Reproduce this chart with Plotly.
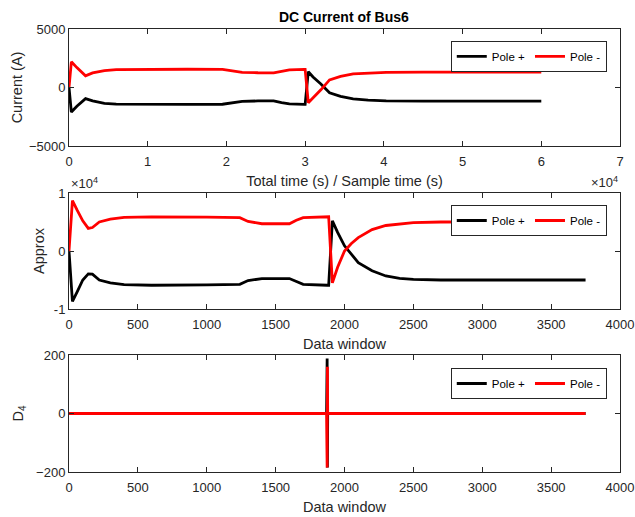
import plotly.graph_objects as go

# ---------------- data ----------------
# Subplot 1: time axis in units of 1e4 (Total time / Sample time)
t1 = [0, 0.03, 0.1, 0.21, 0.3, 0.45, 0.6, 1.0, 1.5, 1.95, 2.05, 2.2, 2.4, 2.6, 2.7, 2.8, 2.99,
      3.0, 3.04, 3.1, 3.2, 3.31, 3.45, 3.61, 3.8, 4.03, 4.5, 5.0, 5.5, 6.0]
cur_pos = [0, -2100, -1600, -950, -1150, -1350, -1420, -1450, -1450, -1430, -1350, -1180, -1150, -1150,
           -1300, -1400, -1450,
           -1450, 1350, 900, 300, -450, -750, -970, -1080, -1140, -1160, -1160, -1160, -1160]
cur_neg = [0, 2200, 1700, 1000, 1250, 1450, 1530, 1560, 1560, 1550, 1450, 1300, 1260, 1250,
           1380, 1500, 1550,
           1550, -1300, -900, -200, 650, 950, 1170, 1250, 1300, 1310, 1310, 1310, 1310]

# Subplot 2: approximation coefficients vs data window
w2 = [0, 25, 60, 100, 140, 170, 220, 300, 400, 600, 1000, 1240, 1300, 1400, 1600, 1650, 1700, 1875,
      1885, 1912, 1950, 2000, 2050, 2100, 2200, 2300, 2400, 2500, 2700, 3000, 3500, 3750]
app_pos = [0, -8700, -7000, -5000, -3950, -4000, -5000, -5500, -5800, -5900, -5850, -5750, -5100,
           -4750, -4750, -5300, -5750, -5900,
           -5900, 5200, 3200, 900, -600, -2000, -3400, -4300, -4700, -4900, -5000, -5000, -5000, -5000]
app_neg = [0, 8700, 7000, 5200, 3900, 4050, 5000, 5500, 5800, 5900, 5850, 5750, 5100,
           4700, 4700, 5300, 5750, 5900,
           5900, -5500, -2800, 0, 1300, 2300, 3700, 4400, 4700, 4900, 5000, 5050, 5050, 5050]

# Subplot 3: detail coefficients D4 vs data window
w3 = [0, 1870, 1874, 1876, 1878, 1882, 3750]
d4_pos = [0, 0, 188, -185, 0, 0, 0]
d4_neg = [0, 0, -185, 160, 0, 0, 0]

series_names = ["Pole +", "Pole -"]
series_colors = ["#000000", "#FF0000"]

x1_ticks = [0, 1, 2, 3, 4, 5, 6, 7]
y1_ticks = [-5000, 0, 5000]
y2_ticks = [-10000, 0, 10000]
y2_ticktext = ["-1", "0", "1"]
x23_ticks = [0, 500, 1000, 1500, 2000, 2500, 3000, 3500, 4000]
y3_ticks = [-200, 0, 200]

title_text = "DC Current of Bus6"

# ---------------- figure ----------------
AX = "#262626"
FONT = "Liberation Sans, Arial, sans-serif"

fig = go.Figure()
panels = [
    (t1, [cur_pos, cur_neg], "x", "y", "legend"),
    (w2, [app_pos, app_neg], "x2", "y2", "legend2"),
    (w3, [d4_pos, d4_neg], "x3", "y3", "legend3"),
]
for xs, ys_list, xa, ya, lg in panels:
    for ys, nm, col in zip(ys_list, series_names, series_colors):
        fig.add_trace(go.Scatter(x=xs, y=ys, mode="lines", name=nm, xaxis=xa, yaxis=ya,
                                 legend=lg, line=dict(color=col, width=2.8)))

common = dict(showgrid=False, zeroline=False, showline=True, linecolor=AX, linewidth=1,
              mirror="ticks", ticks="inside", ticklen=5, tickcolor=AX, tickwidth=1,
              automargin=False,
              tickfont=dict(family=FONT, size=13, color=AX),
              title_font=dict(family=FONT, size=14.5, color=AX))
xcommon = dict(common, ticklabelstandoff=3)

d1 = [0.7359, 1.0]
d2 = [0.3679, 0.6298]
d3 = [0.0, 0.2641]

fig.update_layout(
    width=635, height=517,
    margin=dict(l=69, r=15, t=29, b=45, autoexpand=False),
    paper_bgcolor="white", plot_bgcolor="white",
    font=dict(family=FONT, color=AX),
    showlegend=True,
    title=dict(text="<b>" + title_text + "</b>", x=0.5415, xanchor="center", y=0.967, yanchor="middle",
               font=dict(family=FONT, size=14, color="#000000")),
    xaxis=dict(xcommon, domain=[0, 1], anchor="y", range=[0, 7], tickvals=x1_ticks,
               title=dict(text="Total time (s) / Sample time (s)", standoff=8)),
    yaxis=dict(common, domain=d1, anchor="x", range=[-5000, 5000], tickvals=y1_ticks,
               title=dict(text="Current (A)", standoff=2)),
    xaxis2=dict(xcommon, domain=[0, 1], anchor="y2", range=[0, 4000], tickvals=x23_ticks,
                title=dict(text="Data window", standoff=8)),
    yaxis2=dict(common, domain=d2, anchor="x2", range=[-10000, 10000], tickvals=y2_ticks,
                ticktext=y2_ticktext, title=dict(text="Approx", standoff=5)),
    xaxis3=dict(xcommon, domain=[0, 1], anchor="y3", range=[0, 4000], tickvals=x23_ticks,
                title=dict(text="Data window", standoff=8)),
    yaxis3=dict(common, domain=d3, anchor="x3", range=[-200, 200], tickvals=y3_ticks,
                title=dict(text="D<sub>4</sub>", standoff=9)),
)

leg_common = dict(orientation="h", xanchor="right", yanchor="top", x=0.976,
                  bgcolor="white", bordercolor=AX, borderwidth=1,
                  font=dict(family=FONT, size=11.5, color="#000000"),
                  itemwidth=30, tracegroupgap=0)
fig.update_layout(
    legend=dict(leg_common, y=0.973),
    legend2=dict(leg_common, y=0.6027),
    legend3=dict(leg_common, y=0.2348),
)

# exponent labels (x10^4)
fig.add_annotation(text="\u00d710<sup>4</sup>", xref="paper", yref="paper", x=1.0, y=0.7359,
                   xanchor="right", yanchor="top", yshift=-26, showarrow=False,
                   font=dict(family=FONT, size=13, color=AX))
fig.add_annotation(text="\u00d710<sup>4</sup>", xref="paper", yref="paper", x=0.0, y=0.6298,
                   xanchor="left", yanchor="bottom", showarrow=False,
                   font=dict(family=FONT, size=13, color=AX))

fig.write_html("out.html")
